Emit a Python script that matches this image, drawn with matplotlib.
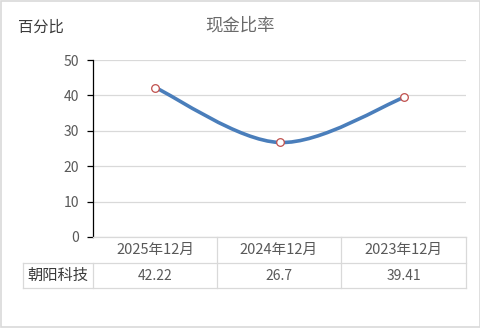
import matplotlib
matplotlib.use("Agg")
import matplotlib.pyplot as plt
from matplotlib.path import Path
from matplotlib.patches import PathPatch, Rectangle
from matplotlib.lines import Line2D

plt.rcParams['font.family'] = ['Noto Sans CJK SC', 'DejaVu Sans']

title = "现金比率"
ylabel = "百分比"
series_name = "朝阳科技"
categories = ["2025年12月", "2024年12月", "2023年12月"]
values = [42.22, 26.7, 39.41]
value_labels = ["42.22", "26.7", "39.41"]
yticks = [0, 10, 20, 30, 40, 50]

W, H = 481, 328
fig = plt.figure(figsize=(W / 100, H / 100), dpi=100)

def fx(px):
    return px / W

def fy(py):
    return 1 - py / H

ax_l, ax_r, ax_t, ax_b = 93, 466, 60, 237
ax = fig.add_axes([fx(ax_l), fy(ax_b), fx(ax_r) - fx(ax_l), fy(ax_t) - fy(ax_b)])
ax.set_xlim(-0.5, len(categories) - 0.5)
ax.set_ylim(0, 50)
ax.set_yticks(yticks)
ax.set_xticks([])
for s in ['top', 'right', 'bottom']:
    ax.spines[s].set_visible(False)
ax.spines['left'].set_color('black')
ax.spines['left'].set_linewidth(0.9)
ax.tick_params(axis='y', length=4, width=0.9, color='black', labelsize=10, labelcolor='#595959', pad=6)
ax.yaxis.grid(True, color='#d9d9d9', linewidth=0.9)
ax.set_axisbelow(True)

# smoothed line (Catmull-Rom -> cubic Bezier)
xs = list(range(len(values)))
pts = list(zip(xs, values))
n = len(pts)
verts = [pts[0]]
codes = [Path.MOVETO]
for i in range(n - 1):
    p0 = pts[max(i - 1, 0)]
    p1 = pts[i]
    p2 = pts[i + 1]
    p3 = pts[min(i + 2, n - 1)]
    c1 = (p1[0] + (p2[0] - p0[0]) / 6, p1[1] + (p2[1] - p0[1]) / 6)
    c2 = (p2[0] - (p3[0] - p1[0]) / 6, p2[1] - (p3[1] - p1[1]) / 6)
    verts += [c1, c2, p2]
    codes += [Path.CURVE4] * 3
ax.add_patch(PathPatch(Path(verts, codes), facecolor='none', edgecolor='#4a7ebb',
                       linewidth=2.6, capstyle='round', zorder=3))
ax.plot(xs, values, linestyle='none', marker='o', markersize=5.5,
        markerfacecolor='white', markeredgecolor='#c0504d', markeredgewidth=0.9, zorder=4)

# title & y label
fig.text(fx(240), fy(25), title, ha='center', va='center', fontsize=12.5, color='#6a6a6a')
fig.text(fx(18), fy(27), ylabel, ha='left', va='center', fontsize=11, color='#3a3a3a')

# table
gc = '#d9d9d9'
lw = 0.9
col_edges = [93, 217, 341, 466]
r0, r1, r2 = 237, 263, 288
lab_l = 23

def hline(y, x0, x1):
    fig.add_artist(Line2D([fx(x0), fx(x1)], [fy(y), fy(y)], color=gc, linewidth=lw))

def vline(x, y0, y1):
    fig.add_artist(Line2D([fx(x), fx(x)], [fy(y0), fy(y1)], color=gc, linewidth=lw))

hline(r0, col_edges[0], col_edges[-1])
hline(r1, lab_l, col_edges[-1])
hline(r2, lab_l, col_edges[-1])
for x in col_edges[1:]:
    vline(x, r0, r2)
vline(col_edges[0], r1, r2)
vline(lab_l, r1, r2)

for i, cat in enumerate(categories):
    cx = (col_edges[i] + col_edges[i + 1]) / 2
    fig.text(fx(cx), fy((r0 + r1) / 2), cat, ha='center', va='center', fontsize=10.5, color='#595959')
    fig.text(fx(cx), fy((r1 + r2) / 2), value_labels[i], ha='center', va='center', fontsize=10, color='#595959')
fig.text(fx((lab_l + col_edges[0]) / 2), fy((r1 + r2) / 2), series_name, ha='center', va='center',
         fontsize=11, color='#3a3a3a')

# outer border
fig.add_artist(Rectangle((0.002, 0.003), 0.996, 0.994, transform=fig.transFigure,
                         facecolor='none', edgecolor='#d9d9d9', linewidth=1.2))

fig.savefig("out.png", dpi=100)
